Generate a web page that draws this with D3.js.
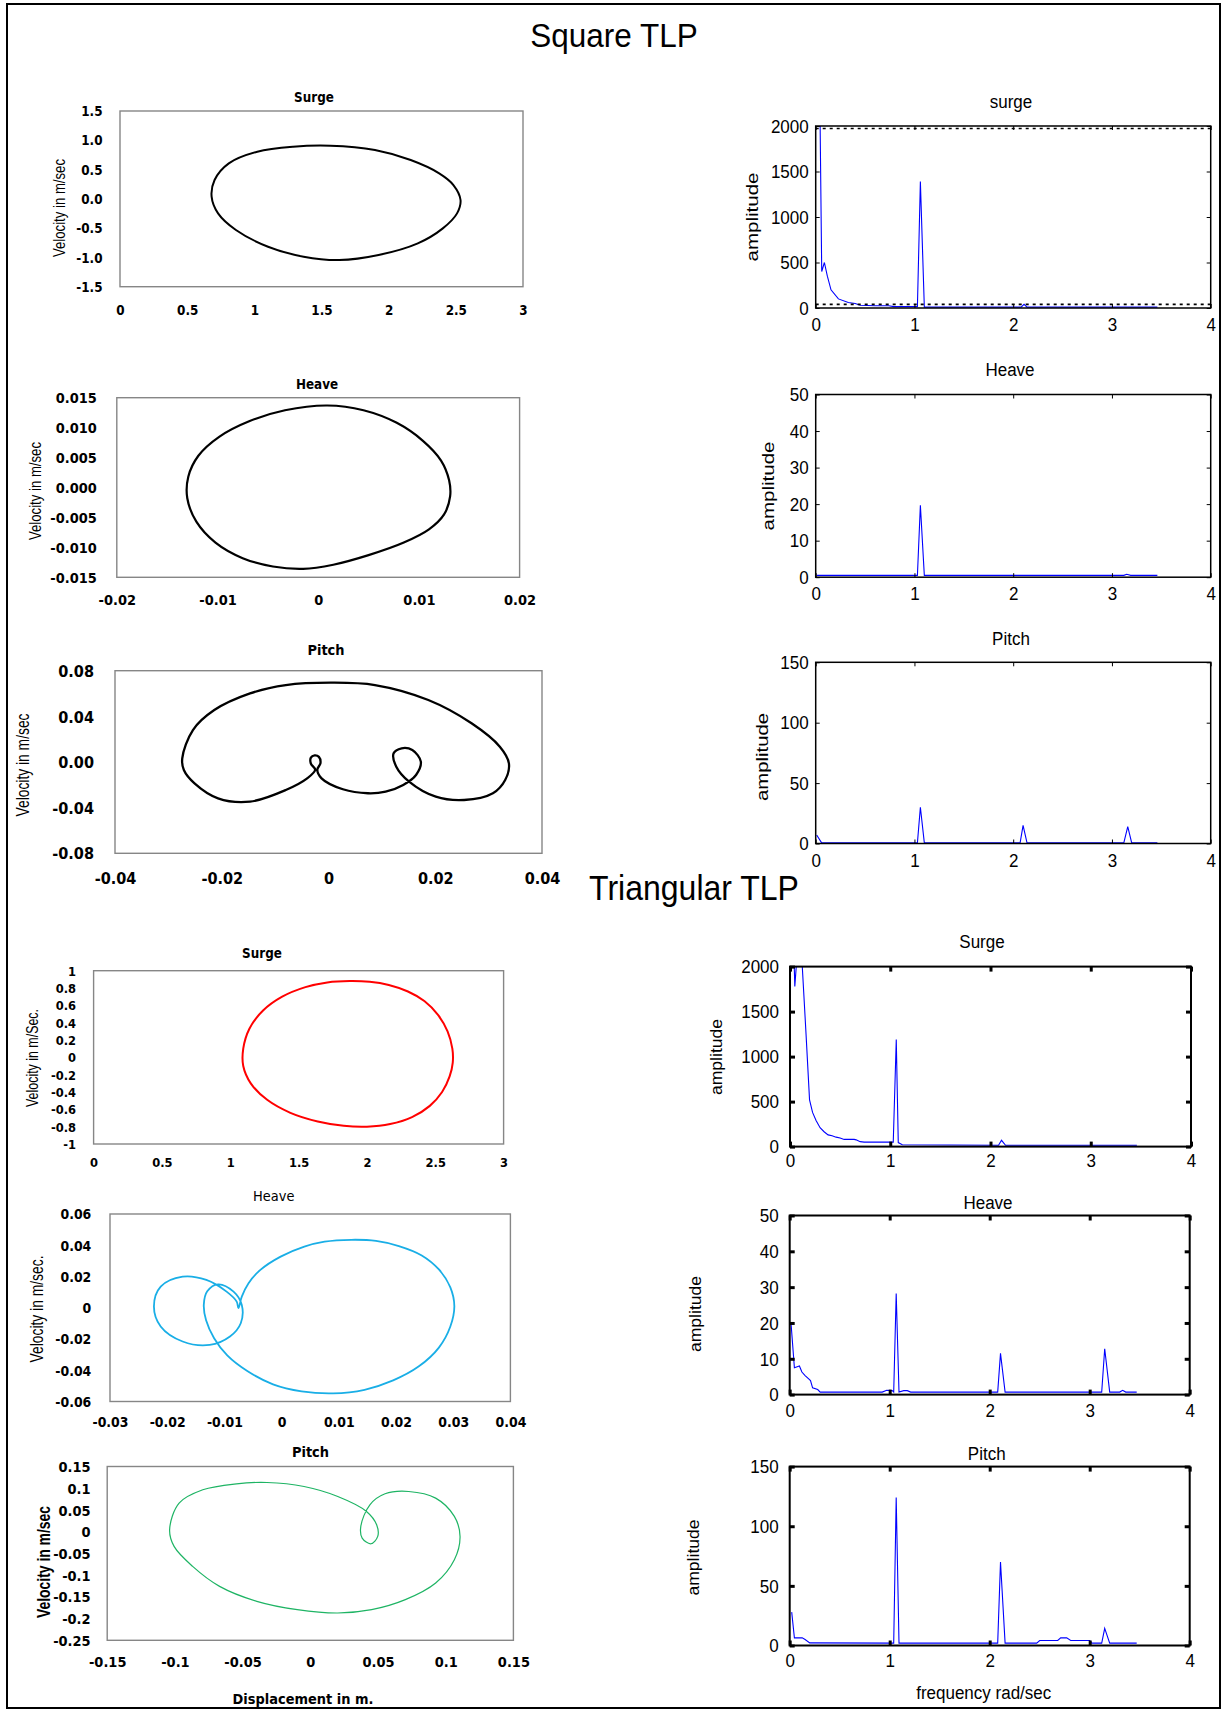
<!DOCTYPE html>
<html>
<head>
<meta charset="utf-8">
<script src="https://cdn.jsdelivr.net/npm/d3@7"></script>
<style>
  body { margin: 0; background: #fff; }
  svg { display: block; }
</style>
</head>
<body>
<script>
// ---------- Phase-plane orbits: [displacement, velocity] ----------
const sqSurgeOrbit = [
  [1.566,0.908],[1.898,0.834],[2.164,0.663],[2.376,0.436],[2.482,0.236],[2.535,-0.02],
  [2.509,-0.248],[2.403,-0.504],[2.217,-0.760],[1.925,-0.959],[1.633,-1.045],[1.367,-0.988],
  [1.102,-0.817],[0.863,-0.532],[0.730,-0.248],[0.682,0.037],[0.704,0.322],[0.81,0.606],
  [1.022,0.805],[1.288,0.891]
];
const sqHeaveOrbit = [
  [0.0009,0.0137],[0.0045,0.0129],[0.0078,0.0108],[0.0104,0.0078],[0.0122,0.0045],[0.0130,0.0012],
  [0.0131,-0.0015],[0.0125,-0.0045],[0.0110,-0.0070],[0.0085,-0.0092],[0.0050,-0.0113],[0.0015,-0.0129],
  [-0.0015,-0.0136],[-0.0045,-0.0132],[-0.0075,-0.0118],[-0.0102,-0.0092],[-0.0121,-0.0057],[-0.0130,-0.0018],
  [-0.0129,0.0018],[-0.0119,0.0053],[-0.0098,0.0085],[-0.0068,0.0111],[-0.0033,0.0129]
];
const sqPitchOrbit = [
  [-0.0274,0.0032],[-0.0254,0.028],[-0.0214,0.0455],[-0.0147,0.0601],[-0.008,0.0674],[0.0007,0.0695],
  [0.0087,0.0674],[0.0187,0.0543],[0.0268,0.0339],[0.0321,0.0134],[0.0338,-0.0012],[0.0331,-0.0158],
  [0.0308,-0.0274],[0.0254,-0.0333],[0.0201,-0.0304],[0.0151,-0.0172],[0.0127,-0.0041],[0.0122,0.0076],
  [0.0137,0.012],[0.0157,0.0105],[0.0173,0.0003],[0.0164,-0.0114],[0.014,-0.0201],[0.0107,-0.026],
  [0.0074,-0.0274],[0.0027,-0.0239],[-0.0013,-0.0143],[-0.0021,-0.0068],[-0.0015,-0.001],[-0.0018,0.0045],
  [-0.0026,0.0058],[-0.0033,0.0038],[-0.0033,-0.0015],[-0.0025,-0.0068],[-0.004,-0.0143],[-0.008,-0.0245],
  [-0.0147,-0.0347],[-0.0207,-0.0318],[-0.0251,-0.0187],[-0.0271,-0.007]
];
const triSurgeOrbit = [
  [1.875,0.881],[2.02,0.872],[2.16,0.835],[2.30,0.760],[2.42,0.650],[2.52,0.49],[2.59,0.30],
  [2.625,0.10],[2.628,-0.06],[2.605,-0.22],[2.55,-0.40],[2.46,-0.56],[2.33,-0.69],[2.17,-0.77],
  [2.0,-0.80],[1.83,-0.79],[1.64,-0.74],[1.44,-0.64],[1.27,-0.49],[1.15,-0.30],[1.095,-0.10],
  [1.095,0.10],[1.14,0.33],[1.24,0.54],[1.38,0.70],[1.55,0.81],[1.71,0.865]
];
const triHeaveOrbit = [
  [-0.00755,-0.0003],[-0.00696,0.0071],[-0.00578,0.0157],[-0.00371,0.0242],[-0.00017,0.0327],[0.00397,0.0391],
  [0.00751,0.0423],[0.0122,0.0435],[0.0165,0.0428],[0.0205,0.0395],[0.0245,0.0335],[0.0275,0.0245],
  [0.0295,0.013],[0.0302,0.001],[0.0295,-0.012],[0.0275,-0.0255],[0.024,-0.0375],[0.0195,-0.0465],
  [0.0145,-0.0525],[0.009,-0.0548],[0.0035,-0.0535],[-0.0015,-0.049],[-0.006,-0.0405],[-0.0095,-0.0305],
  [-0.0118,-0.0195],[-0.0132,-0.008],[-0.0136,0.002],[-0.013,0.0105],[-0.0111,0.015],[-0.0084,0.0103],
  [-0.00696,0.0018],[-0.00714,-0.0099],[-0.00903,-0.0184],[-0.01257,-0.0238],[-0.0173,-0.0216],
  [-0.02114,-0.012],[-0.02232,0.0008],[-0.02114,0.0135],[-0.0173,0.0199],[-0.01316,0.0178],
  [-0.00962,0.0103],[-0.00785,0.0039]
];
const triPitchOrbit = [
  [-0.1039,0.0044],[-0.0969,0.0657],[-0.0794,0.0964],[-0.0545,0.1102],[-0.032,0.1132],[-0.0046,0.104],
  [0.0203,0.081],[0.0415,0.0466],[0.049,0.0159],[0.0498,-0.0109],[0.0448,-0.0278],[0.0383,-0.0148],
  [0.0373,0.0121],[0.044,0.0619],[0.0552,0.0872],[0.0727,0.0925],[0.0926,0.0772],[0.1064,0.0351],
  [0.1106,-0.0109],[0.1064,-0.0646],[0.0926,-0.1182],[0.0702,-0.1565],[0.0453,-0.1795],[0.0203,-0.1872],
  [-0.0096,-0.1795],[-0.0395,-0.1603],[-0.067,-0.1259],[-0.0869,-0.0799],[-0.1006,-0.0339]
];

// ---------- Amplitude spectra: [frequency rad/sec, amplitude] ----------
const sqSurgeSpectrum = [
  [0.043,2200],[0.061,400],[0.088,500],[0.118,350],[0.155,200],[0.23,100],[0.33,60],[0.4,50],
  [0.45,30],[0.6,25],[0.74,25],[0.79,15],[1.03,15],[1.06,1390],[1.1,10],[2.08,10],[2.11,40],
  [2.14,10],[3.46,10]
];
const sqHeaveSpectrum = [
  [0.01,0.5],[1.03,0.5],[1.06,19.7],[1.1,0.5],[3.12,0.5],[3.15,0.8],[3.19,0.5],[3.46,0.5]
];
const sqPitchSpectrum = [
  [0.01,7],[0.06,0.5],[1.03,0.5],[1.06,30],[1.1,0.5],[2.07,0.5],[2.1,15],[2.14,0.5],
  [3.12,0.5],[3.16,14],[3.2,0.5],[3.46,0.5]
];
const triSurgeSpectrum = [
  [0.035,2300],[0.048,1780],[0.069,2100],[0.12,2050],[0.16,1250],[0.195,520],[0.225,380],
  [0.26,290],[0.3,210],[0.34,165],[0.38,130],[0.42,120],[0.46,105],[0.5,95],[0.54,80],[0.64,80],
  [0.66,75],[0.7,55],[0.74,50],[1.03,50],[1.06,1190],[1.08,45],[1.12,20],[2.08,15],[2.11,70],
  [2.15,15],[3.46,15]
];
const triHeaveSpectrum = [
  [0.014,19.6],[0.047,7.5],[0.075,7.8],[0.097,8],[0.122,6.3],[0.154,5.3],[0.19,4.4],[0.208,3.9],
  [0.229,1.9],[0.28,1.4],[0.305,0.7],[0.925,0.7],[0.97,1.2],[1.025,1.1],[1.04,0.7],[1.065,28.2],
  [1.093,0.7],[1.14,1.1],[1.176,1.1],[1.21,0.7],[2.08,0.7],[2.108,11.5],[2.154,0.7],[3.12,0.7],
  [3.15,12.8],[3.2,0.7],[3.3,0.7],[3.33,1.2],[3.36,0.7],[3.47,0.7]
];
const triPitchSpectrum = [
  [0.02,28],[0.047,6.4],[0.125,6.4],[0.154,5],[0.2,2.2],[1.04,2],[1.065,124],[1.093,2],
  [2.08,2],[2.108,70],[2.154,2],[2.47,2],[2.5,4.2],[2.68,4.2],[2.71,6.4],[2.77,6.4],[2.81,4.2],
  [3.0,4.2],[3.02,2],[3.12,2],[3.15,14.3],[3.2,2],[3.47,2]
];

// ---------- Tick values ----------
const sqSurgeXTicks = [0,0.5,1,1.5,2,2.5,3];
const sqSurgeYTicks = [-1.5,-1,-0.5,0,0.5,1,1.5];
const sqHeaveXTicks = [-0.02,-0.01,0,0.01,0.02];
const sqHeaveYTicks = [-0.015,-0.01,-0.005,0,0.005,0.01,0.015];
const sqPitchXTicks = [-0.04,-0.02,0,0.02,0.04];
const sqPitchYTicks = [-0.08,-0.04,0,0.04,0.08];
const triSurgeXTicks = [0,0.5,1,1.5,2,2.5,3];
const triSurgeYTicks = [-1,-0.8,-0.6,-0.4,-0.2,0,0.2,0.4,0.6,0.8,1];
const triHeaveXTicks = [-0.03,-0.02,-0.01,0,0.01,0.02,0.03,0.04];
const triHeaveYTicks = [-0.06,-0.04,-0.02,0,0.02,0.04,0.06];
const triPitchXTicks = [-0.15,-0.1,-0.05,0,0.05,0.1,0.15];
const triPitchYTicks = [-0.25,-0.2,-0.15,-0.1,-0.05,0,0.05,0.1,0.15];
const freqTicks = [0,1,2,3,4];
const surgeAmpTicks = [0,500,1000,1500,2000];
const heaveAmpTicks = [0,10,20,30,40,50];
const pitchAmpTicks = [0,50,100,150];

// ---------- Drawing ----------
const W = 1222, H = 1710;
const S = 1.12;                       // vertical stretch of lettering
const XL = "'DejaVu Sans', Verdana, sans-serif";
const NARROW = "'Liberation Sans Narrow', 'Arial Narrow', 'Liberation Sans', sans-serif";
const ML = "'Liberation Sans', Arial, Helvetica, sans-serif";

const svg = d3.select("body").append("svg").attr("width", W).attr("height", H);
svg.append("rect").attr("width", W).attr("height", H).attr("fill", "#fff");
svg.append("rect").attr("x", 7).attr("y", 4).attr("width", 1213).attr("height", 1704)
  .attr("fill", "none").attr("stroke", "#000").attr("stroke-width", 2);

const dash = s => String(s).replace("\u2212", "-");

function hText(g, x, y, str, o) {
  return g.append("text")
    .attr("transform", `translate(${x},${y}) scale(1,${o.stretch || S})`)
    .attr("dy", "0.35em").attr("text-anchor", o.anchor || "middle")
    .attr("font-family", o.family).attr("font-size", o.size)
    .attr("font-weight", o.weight || "normal").attr("fill", "#000").text(str);
}
// rotated axis title fitted to a given length
function vText(g, x, y, str, o) {
  return g.append("text")
    .attr("transform", `translate(${x},${y}) rotate(-90)`)
    .attr("dy", "0.35em").attr("text-anchor", "middle")
    .attr("font-family", o.family).attr("font-size", o.size)
    .attr("textLength", o.len).attr("lengthAdjust", "spacingAndGlyphs")
    .attr("font-weight", o.weight || "normal").attr("fill", "#000").text(str);
}
function stretchTicks(axisG, dx, dy, s) {
  axisG.selectAll(".tick text").each(function () {
    const t = d3.select(this);
    t.attr("x", 0).attr("y", 0).attr("dy", "0.35em")
     .attr("transform", `translate(${dx},${dy}) scale(1,${s})`);
  });
}

let clipCount = 0;
function addClip(b) {
  const id = "clip" + (clipCount++);
  svg.append("clipPath").attr("id", id).append("rect")
    .attr("x", b[0]).attr("y", b[2]).attr("width", b[1] - b[0]).attr("height", b[3] - b[2]);
  return id;
}

// Excel-style phase-plane panel
function phasePanel(o) {
  const [x0, x1, y0, y1] = o.box;
  const x = d3.scaleLinear().domain(o.xDomain).range([x0, x1]);
  const y = d3.scaleLinear().domain(o.yDomain).range([y1, y0]);
  const g = svg.append("g");

  g.append("rect").attr("x", x0).attr("y", y0).attr("width", x1 - x0).attr("height", y1 - y0)
    .attr("fill", "none").attr("stroke", "#868686").attr("stroke-width", 1.4);

  const ya = g.append("g").attr("transform", `translate(${x0},0)`)
    .call(d3.axisLeft(y).tickValues(o.yTicks).tickFormat(v => dash(o.yFmt(v))).tickSize(0).tickPadding(o.yPad));
  ya.select(".domain").remove();
  ya.attr("font-family", XL).attr("font-size", o.fs).attr("font-weight", "bold");
  ya.selectAll("text").attr("fill", "#000");
  stretchTicks(ya, -o.yPad, 0, S);

  const xa = g.append("g").attr("transform", `translate(0,${y1})`)
    .call(d3.axisBottom(x).tickValues(o.xTicks).tickFormat(v => dash(o.xFmt(v))).tickSize(0));
  xa.select(".domain").remove();
  xa.attr("font-family", XL).attr("font-size", o.fs).attr("font-weight", "bold");
  xa.selectAll("text").attr("fill", "#000");
  stretchTicks(xa, 0, o.xLabY - y1, S);

  hText(g, o.title[0], o.title[1], o.titleText, { family: XL, size: o.titleSize, weight: o.titleWeight || "bold" });
  vText(g, o.yTitle[0], o.yTitle[1], o.yTitleText, {
    family: NARROW, size: o.yTitleSize, weight: o.yTitleWeight || "normal", len: o.yTitleLen
  });

  const line = d3.line().x(d => x(d[0])).y(d => y(d[1])).curve(d3.curveCatmullRomClosed.alpha(0.5));
  g.append("path").datum(o.data).attr("d", line)
    .attr("fill", "none").attr("stroke", o.color).attr("stroke-width", o.lw).attr("stroke-linejoin", "round");
}

// MATLAB-style spectrum panel
function spectrumPanel(o) {
  const [x0, x1, y0, y1] = o.box;
  const x = d3.scaleLinear().domain([0, 4]).range([x0, x1]);
  const y = d3.scaleLinear().domain(o.yDomain).range([y1, y0]);
  const g = svg.append("g");
  const clip = addClip(o.box);
  const intFmt = d3.format("d");

  const line = d3.line().x(d => x(d[0])).y(d => y(d[1]));
  g.append("path").datum(o.data).attr("d", line).attr("clip-path", `url(#${clip})`)
    .attr("fill", "none").attr("stroke", "#0000ff").attr("stroke-width", 1.1);

  if (o.dotted) {
    o.dotted.forEach(v => {
      g.append("line").attr("x1", x0).attr("x2", x1).attr("y1", y(v)).attr("y2", y(v))
        .attr("stroke", "#000").attr("stroke-width", 1.6).attr("stroke-dasharray", "3,4");
    });
  }

  const tk = o.tick, tw = o.tickW;
  const style = a => { a.select(".domain").remove(); a.selectAll("line").attr("stroke", "#000").attr("stroke-width", tw); };

  const left = g.append("g").attr("transform", `translate(${x0},0)`)
    .call(d3.axisLeft(y).tickValues(o.yTicks).tickFormat(intFmt).tickSizeInner(-tk).tickSizeOuter(0).tickPadding(o.yPad));
  style(left);
  left.attr("font-family", ML).attr("font-size", o.fs);
  left.selectAll("text").attr("fill", "#000");
  left.selectAll(".tick text").attr("text-anchor", "end");
  stretchTicks(left, -o.yPad, 0, 1.05);

  const right = g.append("g").attr("transform", `translate(${x1},0)`)
    .call(d3.axisRight(y).tickValues(o.yTicks).tickSizeInner(-tk).tickSizeOuter(0).tickFormat(""));
  style(right);
  const top = g.append("g").attr("transform", `translate(0,${y0})`)
    .call(d3.axisTop(x).tickValues(freqTicks).tickSizeInner(-tk).tickSizeOuter(0).tickFormat(""));
  style(top);
  const bottom = g.append("g").attr("transform", `translate(0,${y1})`)
    .call(d3.axisBottom(x).tickValues(freqTicks).tickFormat(intFmt).tickSizeInner(-tk).tickSizeOuter(0));
  style(bottom);
  bottom.attr("font-family", ML).attr("font-size", o.fs);
  bottom.selectAll("text").attr("fill", "#000");
  stretchTicks(bottom, 0, o.xLabY - y1, 1.05);

  g.append("rect").attr("x", x0).attr("y", y0).attr("width", x1 - x0).attr("height", y1 - y0)
    .attr("fill", "none").attr("stroke", "#000").attr("stroke-width", o.boxW);

  hText(g, o.title[0], o.title[1], o.titleText, { family: ML, size: o.titleSize, stretch: 1.05 });
  vText(g, o.yTitle[0], o.yTitle[1], "amplitude", { family: ML, size: o.titleSize, len: o.ampLen });
  if (o.xTitleText) hText(g, o.xTitle[0], o.xTitle[1], o.xTitleText, { family: ML, size: o.titleSize, stretch: 1.05 });
}

// Section headings
hText(svg, 614, 35, "Square TLP", { family: ML, size: 31.5, stretch: 1.08 });
hText(svg, 694, 888, "Triangular TLP", { family: ML, size: 32, stretch: 1.08 });

const fmtPlain = v => String(v);

// ----- Square TLP -----
phasePanel({
  box: [120, 523, 111, 286.7], xDomain: [0, 3], yDomain: [-1.5, 1.5],
  xTicks: sqSurgeXTicks, yTicks: sqSurgeYTicks, xFmt: fmtPlain, yFmt: v => v.toFixed(1),
  fs: 12, yPad: 17.5, xLabY: 310, title: [314, 97], titleText: "Surge", titleSize: 12,
  yTitle: [59, 208], yTitleText: "Velocity in m/sec", yTitleSize: 17, yTitleLen: 98,
  data: sqSurgeOrbit, color: "#000", lw: 2
});
phasePanel({
  box: [116.8, 519.6, 397.7, 577.3], xDomain: [-0.02, 0.02], yDomain: [-0.015, 0.015],
  xTicks: sqHeaveXTicks, yTicks: sqHeaveYTicks, xFmt: fmtPlain, yFmt: v => v.toFixed(3),
  fs: 13, yPad: 20, xLabY: 600, title: [317, 384], titleText: "Heave", titleSize: 12,
  yTitle: [35, 491], yTitleText: "Velocity in m/sec", yTitleSize: 17, yTitleLen: 98,
  data: sqHeaveOrbit, color: "#000", lw: 2.2
});
phasePanel({
  box: [115, 542, 670.7, 853.3], xDomain: [-0.04, 0.04], yDomain: [-0.08, 0.08],
  xTicks: sqPitchXTicks, yTicks: sqPitchYTicks, xFmt: fmtPlain, yFmt: v => v.toFixed(2),
  fs: 14.5, yPad: 21, xLabY: 878, title: [326, 650], titleText: "Pitch", titleSize: 13,
  yTitle: [23, 765], yTitleText: "Velocity in m/sec", yTitleSize: 18, yTitleLen: 103,
  data: sqPitchOrbit, color: "#000", lw: 2.3
});
spectrumPanel({
  box: [815.7, 1210.7, 126, 308], yDomain: [0, 2000], yTicks: surgeAmpTicks,
  data: sqSurgeSpectrum, dotted: [1972, 40], tick: 4, tickW: 1, boxW: 1.5,
  fs: 17, yPad: 7, xLabY: 325, title: [1011, 102], titleText: "surge", titleSize: 17,
  yTitle: [752, 217], ampLen: 89
});
spectrumPanel({
  box: [815.7, 1210.7, 394.5, 577.2], yDomain: [0, 50], yTicks: heaveAmpTicks,
  data: sqHeaveSpectrum, tick: 4, tickW: 1, boxW: 1.5,
  fs: 17, yPad: 7, xLabY: 594, title: [1010, 370], titleText: "Heave", titleSize: 17,
  yTitle: [768, 486], ampLen: 89
});
spectrumPanel({
  box: [815.7, 1210.7, 662.3, 843.5], yDomain: [0, 150], yTicks: pitchAmpTicks,
  data: sqPitchSpectrum, tick: 4, tickW: 1, boxW: 1.5,
  fs: 17, yPad: 7, xLabY: 861, title: [1011, 638.5], titleText: "Pitch", titleSize: 17,
  yTitle: [762, 757], ampLen: 88
});

// ----- Triangular TLP -----
phasePanel({
  box: [93.6, 503.6, 970.7, 1144], xDomain: [0, 3], yDomain: [-1, 1],
  xTicks: triSurgeXTicks, yTicks: triSurgeYTicks, xFmt: fmtPlain, yFmt: fmtPlain,
  fs: 11.5, yPad: 17.6, xLabY: 1162, title: [262, 953], titleText: "Surge", titleSize: 12,
  yTitle: [32.5, 1058], yTitleText: "Velocity in m/Sec.", yTitleSize: 17, yTitleLen: 98,
  data: triSurgeOrbit, color: "#ff0000", lw: 2
});
phasePanel({
  box: [110, 510.4, 1214, 1401.5], xDomain: [-0.03, 0.04], yDomain: [-0.06, 0.06],
  xTicks: triHeaveXTicks, yTicks: triHeaveYTicks, xFmt: fmtPlain, yFmt: fmtPlain,
  fs: 12.5, yPad: 18.7, xLabY: 1421.6, title: [273.7, 1196], titleText: "Heave", titleSize: 13, titleWeight: "normal",
  yTitle: [37, 1309], yTitleText: "Velocity in m/sec.", yTitleSize: 18, yTitleLen: 107,
  data: triHeaveOrbit, color: "#19aee6", lw: 1.8
});
phasePanel({
  box: [107.2, 513.4, 1466.5, 1640.3], xDomain: [-0.15, 0.15], yDomain: [-0.25, 0.15],
  xTicks: triPitchXTicks, yTicks: triPitchYTicks, xFmt: fmtPlain, yFmt: fmtPlain,
  fs: 13, yPad: 16.6, xLabY: 1662, title: [310.5, 1452], titleText: "Pitch", titleSize: 13,
  yTitle: [43.8, 1562], yTitleText: "Velocity in m/sec", yTitleSize: 18, yTitleWeight: "bold", yTitleLen: 112,
  data: triPitchOrbit, color: "#1eb464", lw: 1.2
});
hText(svg, 303, 1699, "Displacement in m.", { family: XL, size: 13, weight: "bold" });

spectrumPanel({
  box: [790, 1191, 966.6, 1146.6], yDomain: [0, 2000], yTicks: surgeAmpTicks,
  data: triSurgeSpectrum, tick: 5, tickW: 3, boxW: 2,
  fs: 17, yPad: 11, xLabY: 1161, title: [982, 942], titleText: "Surge", titleSize: 17,
  yTitle: [715.7, 1057], ampLen: 76
});
spectrumPanel({
  box: [789.7, 1189.7, 1215.5, 1394.6], yDomain: [0, 50], yTicks: heaveAmpTicks,
  data: triHeaveSpectrum, tick: 5, tickW: 3, boxW: 2,
  fs: 17, yPad: 11, xLabY: 1410.3, title: [988, 1203], titleText: "Heave", titleSize: 17,
  yTitle: [695, 1314], ampLen: 76
});
spectrumPanel({
  box: [789.7, 1189.7, 1466.6, 1645.5], yDomain: [0, 150], yTicks: pitchAmpTicks,
  data: triPitchSpectrum, tick: 5, tickW: 3, boxW: 2,
  fs: 17, yPad: 11, xLabY: 1661, title: [986.7, 1454], titleText: "Pitch", titleSize: 17,
  yTitle: [693.5, 1557.5], xTitle: [983.7, 1693], xTitleText: "frequency rad/sec", ampLen: 76
});
</script>
</body>
</html>
